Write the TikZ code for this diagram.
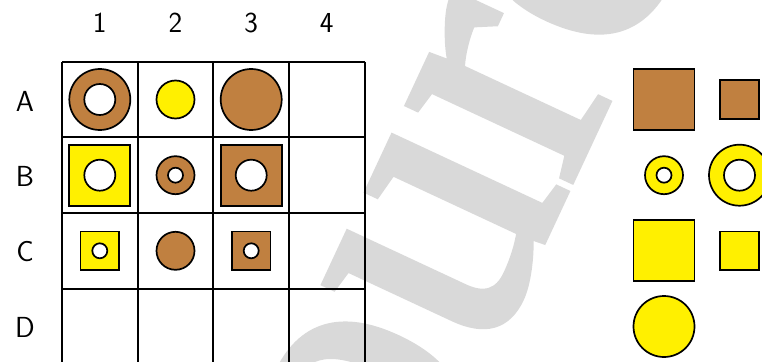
\documentclass[tikz,border=0pt]{standalone}
\usepackage{fontspec}
\newfontfamily\wmfont[FakeBold=2]{Liberation Serif}
\definecolor{brownf}{RGB}{192,128,64}
\definecolor{yell}{RGB}{255,240,0}
\definecolor{wmgray}{RGB}{217,217,217}
\tikzset{
  gridline/.style={line width=2.3pt, black},
  shp/.style={draw=black, line width=1.7pt, inner sep=0pt, outer sep=0pt},
  bigdisc/.style={shp, circle, minimum size=61pt},
  smalldisc/.style={shp, circle, minimum size=38pt},
  bighole/.style={shp, circle, fill=white, minimum size=31pt},
  smallhole/.style={shp, circle, fill=white, minimum size=15pt},
  bigsq/.style={shp, rectangle, minimum size=61pt},
  smallsq/.style={shp, rectangle, minimum size=38.5pt},
  lbl/.style={font=\sffamily\fontsize{29}{29}\selectfont, inner sep=0pt},
}
\begin{document}
\begin{tikzpicture}[x=1pt,y=-1pt]
\useasboundingbox (0,0) rectangle (762,361);
\clip (0,0) rectangle (762,361);
% watermark
\node[rotate=65, anchor=base west, inner sep=0pt, text=wmgray,
      font=\wmfont\fontsize{390}{390}\selectfont] (wm) at (311.5,737) {Source};
% grid
\foreach \x in {62,137.7,213.3,289,364.7} \draw[gridline] (\x,61.7) -- (\x,370);
\foreach \y in {61.7,137,212.7,288.7} \draw[gridline] (62,\y) -- (364.7,\y);
% labels
\node[lbl] (c1) at (99.8,23) {1};
\node[lbl] (c2) at (175.5,23) {2};
\node[lbl] (c3) at (251.2,23) {3};
\node[lbl] (c4) at (326.8,23) {4};
\node[lbl] (rA) at (25,101) {A};
\node[lbl] (rB) at (25,176) {B};
\node[lbl] (rC) at (25,252) {C};
\node[lbl] (rD) at (25,327) {D};
% row A
\node[bigdisc, fill=brownf] (a1o) at (99.8,99.5) {};
\node[bighole] (a1i) at (99.8,99.5) {};
\node[smalldisc, fill=yell] (a2) at (175.5,99.5) {};
\node[bigdisc, fill=brownf] (a3) at (251.2,99.5) {};
% row B
\node[bigsq, fill=yell] (b1o) at (99.8,175.2) {};
\node[bighole] (b1i) at (99.8,175.2) {};
\node[smalldisc, fill=brownf] (b2o) at (175.5,175.2) {};
\node[smallhole] (b2i) at (175.5,175.2) {};
\node[bigsq, fill=brownf] (b3o) at (251.2,175.2) {};
\node[bighole] (b3i) at (251.2,175.2) {};
% row C
\node[smallsq, fill=yell] (c1o) at (99.8,250.8) {};
\node[smallhole] (c1i) at (99.8,250.8) {};
\node[smalldisc, fill=brownf] (c2s) at (175.5,250.8) {};
\node[smallsq, fill=brownf] (c3o) at (251.2,250.8) {};
\node[smallhole] (c3i) at (251.2,250.8) {};
% right side pieces
\node[bigsq, fill=brownf] (p1) at (664,99.5) {};
\node[smallsq, fill=brownf] (p2) at (739.5,99.5) {};
\node[smalldisc, fill=yell] (p3o) at (664,175.2) {};
\node[smallhole] (p3i) at (664,175.2) {};
\node[bigdisc, fill=yell] (p4o) at (739.5,175.2) {};
\node[bighole] (p4i) at (739.5,175.2) {};
\node[bigsq, fill=yell] (p5) at (664,250.8) {};
\node[smallsq, fill=yell] (p6) at (739.5,250.8) {};
\node[bigdisc, fill=yell] (p7) at (664,326.5) {};
\end{tikzpicture}
\end{document}
